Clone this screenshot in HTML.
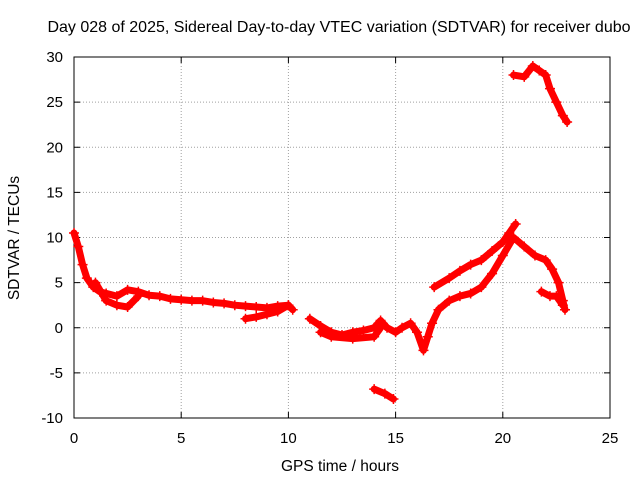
<!DOCTYPE html>
<html><head><meta charset="utf-8"><style>
body{margin:0;background:#fff}
svg{display:block;font-family:"Liberation Sans",sans-serif}
</style></head><body>
<svg id="chart" width="640" height="480">
<text x="339" y="32" text-anchor="middle" font-size="16">Day 028 of 2025, Sidereal Day-to-day VTEC variation (SDTVAR) for receiver dubo</text>
<g id="grid"></g>
<g id="axes"></g>
<g id="series"></g>
<text x="340" y="471" text-anchor="middle" font-size="15.5">GPS time / hours</text>
<text transform="translate(19,238) rotate(-90)" text-anchor="middle" font-size="15.5">SDTVAR / TECUs</text>
</svg>
<script>
const xTicks=[0,5,10,15,20,25];
const yTicks=[-10,-5,0,5,10,15,20,25,30];
const trackMainH=[0,0.2,0.4,0.6,0.9,1.2,1.5,2,2.5,3,3.5,4,4.5,5,5.5,6,6.5,7,7.5,8,8.5,9,9.5,10];
const trackMainV=[10.5,9,7,5.5,4.5,4,3.8,3.5,4.2,4,3.6,3.5,3.2,3.1,3,3,2.8,2.7,2.5,2.4,2.3,2.2,2.4,2.5];
const trackLowH=[1,1.5,2,2.5,3];
const trackLowV=[5,3,2.5,2.3,3.5];
const trackEveH=[8,8.5,9,9.5,10,10.2];
const trackEveV=[1,1.2,1.5,1.8,2.5,2];
const trackDayH=[11,11.5,12,12.5,13,13.5,14,14.3,14.6,15,15.3,15.7,16,16.3,16.5,16.7,17,17.5,18,18.5,19,19.5,20,20.5,21,21.5,22,22.3,22.6,22.8,22.9];
const trackDayV=[1,0.2,-0.5,-0.8,-0.5,-0.3,0,0.8,0,-0.5,0,0.5,-0.5,-2.5,-1,0.5,2,3,3.5,3.8,4.5,6,8,10,9,8,7.5,6.5,5,3,2];
const trackBandH=[11.5,12,13,14,14.3];
const trackBandV=[-0.5,-1,-1.2,-1,0];
const trackUpH=[16.8,17.5,18,18.5,19,19.5,20,20.3,20.6];
const trackUpV=[4.5,5.5,6.3,7,7.5,8.5,9.5,10.5,11.5];
const trackNegH=[14,14.5,14.9];
const trackNegV=[-6.8,-7.3,-7.9];
const trackHighH=[20.5,21,21.4,21.7,22,22.2,22.5,22.8,23];
const trackHighV=[28,27.8,29,28.5,28,26.5,25,23.5,22.8];
const trackLoopH=[21.8,22.2,22.5,22.8];
const trackLoopV=[4,3.5,3.5,2.5];

const X0=74,X1=610,Y0=418,Y1=57;
const xs=h=>X0+(h-0)/(25-0)*(X1-X0);
const ys=v=>Y0-(v+10)/40*(Y0-Y1);
const NS="http://www.w3.org/2000/svg";
const grid=document.getElementById('grid'),axes=document.getElementById('axes'),ser=document.getElementById('series');
function mk(t,a,p){const e=document.createElementNS(NS,t);for(const k in a)e.setAttribute(k,a[k]);p.appendChild(e);return e;}
xTicks.forEach(t=>{
 const x=xs(t);
 if(t>0&&t<25){const l=mk('line',{x1:x,x2:x,y1:Y1,y2:Y0,stroke:'#a0a0a0','stroke-dasharray':'1,2'},grid);
 
 }
 const tx=mk('text',{x:x,y:Y0+25,'text-anchor':'middle','font-size':15},axes);tx.textContent=t;
 
 
 mk('line',{x1:x,x2:x,y1:Y0,y2:Y0-6,stroke:'#000'},axes);
 mk('line',{x1:x,x2:x,y1:Y1,y2:Y1+6,stroke:'#000'},axes);
});
yTicks.forEach(t=>{
 const y=ys(t);
 if(t>-10&&t<30){const l=mk('line',{x1:X0,x2:X1,y1:y,y2:y,stroke:'#a0a0a0','stroke-dasharray':'1,2'},grid);
 
 }
 const tx=mk('text',{x:X0-11,y:y+5,'text-anchor':'end','font-size':15},axes);tx.textContent=t;
 
 
 mk('line',{x1:X0,x2:X0+6,y1:y,y2:y,stroke:'#000'},axes);
 mk('line',{x1:X1,x2:X1-6,y1:y,y2:y,stroke:'#000'},axes);
});
const fr=mk('rect',{x:X0,y:Y1,width:X1-X0,height:Y0-Y1,fill:'none',stroke:'#000'},axes);


const tracks=[[trackMainH,trackMainV],[trackLowH,trackLowV],[trackEveH,trackEveV],[trackDayH,trackDayV],[trackBandH,trackBandV],[trackUpH,trackUpV],[trackNegH,trackNegV],[trackHighH,trackHighV],[trackLoopH,trackLoopV]];
tracks.forEach(([H,V])=>{
 const pts=H.map((h,i)=>xs(h)+','+ys(V[i])).join(' ');
 const pl=mk('polyline',{points:pts,fill:'none',stroke:'#f00','stroke-width':7,'stroke-linejoin':'round','stroke-linecap':'round'},ser);
 
 
 H.forEach((h,i)=>{const x=xs(h),y=ys(V[i]);
  const p=mk('path',{d:`M${x-5},${y}H${x+5}M${x},${y-5}V${y+5}`,stroke:'#f00','stroke-width':1.5},ser);
  
  
 });
});
</script>
</body></html>
